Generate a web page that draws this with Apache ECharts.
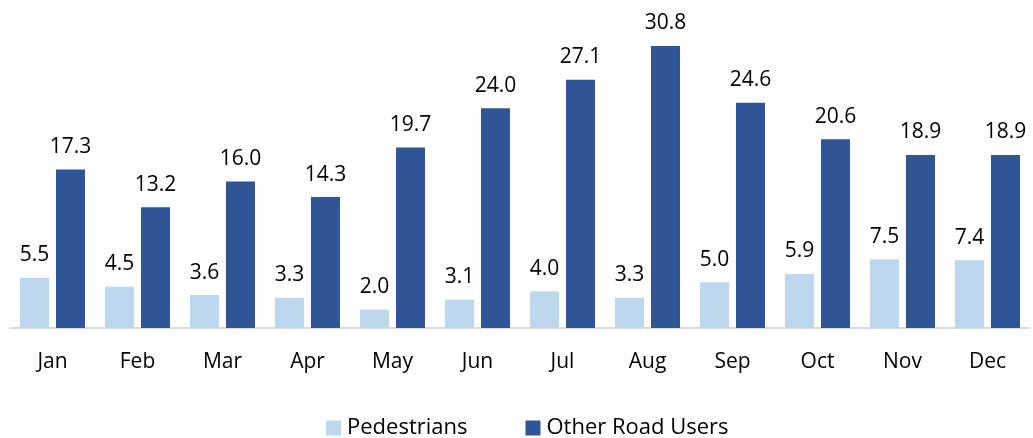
<!DOCTYPE html>
<html><head><meta charset="utf-8">
<script src="https://cdn.jsdelivr.net/npm/echarts@6/dist/echarts.min.js"></script>
<style>html,body{margin:0;padding:0;background:#fff}#c{width:1033px;height:438px}</style>
</head><body><div id="c"></div>
<script>
const categories = ['Jan','Feb','Mar','Apr','May','Jun','Jul','Aug','Sep','Oct','Nov','Dec'];
const pedestrians = [5.5,4.5,3.6,3.3,2.0,3.1,4.0,3.3,5.0,5.9,7.5,7.4];
const otherRoadUsers = [17.3,13.2,16.0,14.3,19.7,24.0,27.1,30.8,24.6,20.6,18.9,18.9];
const font = '"Open Sans", "Noto Sans", sans-serif';
const chart = echarts.init(document.getElementById('c'), null, {renderer:'canvas'});
const label = {show:true, position:'top', distance:12, color:'#000', fontSize:21, fontFamily:font, formatter: p => p.value.toFixed(1)};
chart.setOption({
  animation:false,
  grid:{left:10, right:3, top:7.5, bottom:110, containLabel:false},
  legend:{top:412, left:321, itemWidth:15, itemHeight:15, itemGap:58, icon:'rect',
    textStyle:{fontSize:22, fontFamily:font, color:'#000', padding:[0,0,0,1]},
    data:['Pedestrians','Other Road Users']},
  xAxis:{type:'category', data:categories,
    axisLine:{lineStyle:{color:'#D9D9D9', width:2}}, axisTick:{show:false},
    axisLabel:{color:'#000', fontSize:21, fontFamily:font, margin:24}},
  yAxis:{type:'value', min:0, max:35, show:false, splitLine:{show:false}},
  series:[
    {name:'Pedestrians', type:'bar', data:pedestrians, barWidth:29, barGap:'24%', itemStyle:{color:'#BDD7EE'}, label},
    {name:'Other Road Users', type:'bar', data:otherRoadUsers, barWidth:29, itemStyle:{color:'#2F5597'}, label}
  ]
});
</script></body></html>
